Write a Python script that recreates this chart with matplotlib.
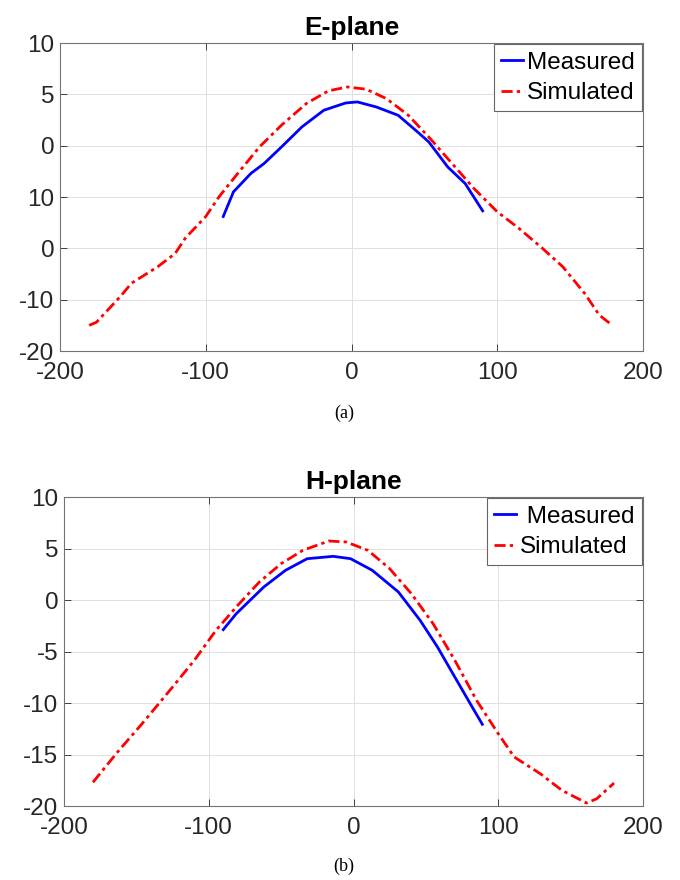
import matplotlib.pyplot as plt
import numpy as np

plt.rcParams['font.family'] = ['Liberation Sans', 'DejaVu Sans']
plt.rcParams['axes.unicode_minus'] = False

# E-plane data
e_sim_x = [-180, -175, -158, -151, -133, -121, -114, -100, -91, -78, -63, -48, -31, -16, -3,
           10, 24, 39, 54, 69, 84, 100, 115, 131, 145, 160, 170, 179]
e_sim_y = [-17.5, -17.2, -14.6, -13.4, -11.8, -10.5, -9.0, -6.9, -5.0, -2.7, -0.1, 2.0, 4.1,
           5.33, 5.72, 5.5, 4.58, 2.96, 0.69, -1.74, -4.17, -6.44, -8.07, -10.0, -11.8, -14.4,
           -16.5, -17.5]
e_meas_x = [-88, -81, -69, -60, -48, -34, -19, -4, 4, 17, 32, 44, 53, 66, 78, 90]
e_meas_y = [-6.9, -4.5, -2.7, -1.74, -0.12, 1.83, 3.45, 4.16, 4.26, 3.77, 2.96, 1.5, 0.37,
            -2.07, -3.69, -6.35]
e_yticks = [-20, -15, -10, -5, 0, 5, 10]
e_yticklabels = ['-20', '-10', '0', '10', '0', '5', '10']

# H-plane data
h_sim_x = [-180, -163, -146, -125, -110, -95, -80, -65, -50, -35, -17, -5, 10, 25, 40, 55,
           70, 85, 100, 111, 129, 144, 161, 168, 180]
h_sim_y = [-17.7, -14.76, -12.0, -8.45, -5.86, -2.94, -0.52, 1.75, 3.53, 4.82, 5.73, 5.63,
           4.82, 3.04, 0.61, -2.3, -5.86, -9.74, -12.98, -15.24, -16.86, -18.48, -19.71,
           -19.3, -17.77]
h_meas_x = [-90, -81, -62, -47, -32, -14, -2, 13, 31, 46, 58, 70, 82, 89]
h_meas_y = [-2.88, -1.33, 1.26, 2.88, 4.01, 4.24, 4.01, 2.88, 0.78, -1.97, -4.56, -7.48,
            -10.39, -12.07]
h_yticks = [-20, -15, -10, -5, 0, 5, 10]
h_yticklabels = ['-20', '-15', '-10', '-5', '0', '5', '10']

xticks = [-200, -100, 0, 100, 200]

fig = plt.figure(figsize=(6.8, 8.8), dpi=100)
W, H = 680, 880
dash_dot = (0, (4, 1.5, 1.2, 1.5))


def setup(ax, title, yticks, yticklabels):
    ax.set_xlim(-200, 200)
    ax.set_ylim(-20, 10)
    ax.set_xticks(xticks)
    ax.set_yticks(yticks)
    ax.set_yticklabels(yticklabels)
    ax.tick_params(direction='in', labelsize=17.5, colors='0.15', length=5, width=0.6,
                   right=True, top=True)
    ax.tick_params(axis='y', pad=4)
    ax.tick_params(axis='x', pad=8)
    for s in ax.spines.values():
        s.set_color('0.45')
        s.set_linewidth(0.8)
    ax.grid(True, color='0.88', linewidth=0.7)
    ax.set_axisbelow(True)
    ax.set_title(title, fontsize=19, fontweight='bold', pad=6)
    leg = ax.legend(loc='upper right', fontsize=17.5, handlelength=0.9, handletextpad=0.15,
                    borderaxespad=0.05, borderpad=0.3, labelspacing=0.35, fancybox=False,
                    framealpha=1)
    leg.get_frame().set_edgecolor('0.4')
    leg.get_frame().set_linewidth(0.8)


ax1 = fig.add_axes([60 / W, 1 - 351 / H, (643 - 60) / W, (351 - 43) / H])
ax1.plot(e_meas_x, e_meas_y, color='blue', lw=2, label='Measured')
ax1.plot(e_sim_x, e_sim_y, color='red', lw=2, linestyle=dash_dot, label='Simulated')
setup(ax1, 'E-plane', e_yticks, e_yticklabels)

ax2 = fig.add_axes([64 / W, 1 - 806 / H, (643 - 64) / W, (806 - 497) / H])
ax2.plot(h_meas_x, h_meas_y, color='blue', lw=2, label=' Measured')
ax2.plot(h_sim_x, h_sim_y, color='red', lw=2, linestyle=dash_dot, label='Simulated')
setup(ax2, 'H-plane', h_yticks, h_yticklabels)

fig.text(344 / W, 1 - 413 / H, '(a)', ha='center', va='center', fontsize=13,
         family='Liberation Serif')
fig.text(344 / W, 1 - 866 / H, '(b)', ha='center', va='center', fontsize=13,
         family='Liberation Serif')

fig.savefig('out.png', dpi=100)
